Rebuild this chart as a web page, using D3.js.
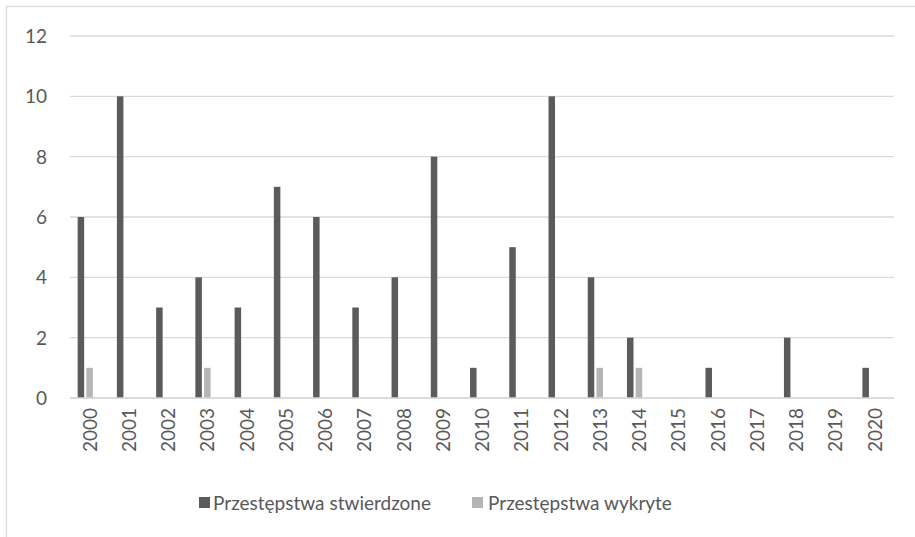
<!DOCTYPE html>
<html>
<head>
<meta charset="utf-8">
<script src="https://cdn.jsdelivr.net/npm/d3@7"></script>
<style>
  html, body { margin: 0; padding: 0; background: #fff; }
  svg { display: block; }
  text { font-family: Lato, "Open Sans", sans-serif; fill: #595959; }
</style>
</head>
<body>
<svg id="chart" width="915" height="537"></svg>
<script>
const categories = ["2000","2001","2002","2003","2004","2005","2006","2007","2008","2009","2010",
                    "2011","2012","2013","2014","2015","2016","2017","2018","2019","2020"];
const seriesNames = ["Przestępstwa stwierdzone", "Przestępstwa wykryte"];
const stwierdzone = [6,10,3,4,3,7,6,3,4,8,1,5,10,4,2,0,1,0,2,0,1];
const wykryte     = [1,0,0,1,0,0,0,0,0,0,0,0,0,1,1,0,0,0,0,0,0];
const yTicks = [0,2,4,6,8,10,12];
const colors = ["#5b5b5b", "#b5b5b5"];

(function () {
const svg = d3.select("#chart");
const W = 915, H = 537;

// chart border
svg.append("rect").attr("x", 6.5).attr("y", 6.5).attr("width", W + 10).attr("height", H + 10)
  .attr("fill", "#fff").attr("stroke", "#d9d9d9").attr("stroke-width", 1.3);

const pLeft = 70, pRight = 894, pTop = 36, pBottom = 398;

const x0 = d3.scaleBand().domain(categories).range([pLeft, pRight])
  .paddingInner(0.334).paddingOuter(0.167);
const x1 = d3.scaleBand().domain(seriesNames).range([0, x0.bandwidth() * 2 / 3]);
const y = d3.scaleLinear().domain([0, 12]).range([pBottom, pTop]);

// gridlines
svg.append("g").selectAll("line").data(yTicks).join("line")
  .attr("x1", pLeft).attr("x2", pRight)
  .attr("y1", d => y(d)).attr("y2", d => y(d))
  .attr("stroke", "#d9d9d9").attr("stroke-width", 1.3);

// y labels
svg.append("g").selectAll("text").data(yTicks).join("text")
  .attr("x", 47).attr("y", d => y(d)).attr("dy", "0.36em")
  .attr("text-anchor", "end").style("font-size", "19px")
  .text(d => d);

const data = categories.map((c, i) => ({ cat: c, vals: [stwierdzone[i], wykryte[i]] }));

// bars
const inset = 1.1;
const g = svg.append("g").selectAll("g").data(data).join("g")
  .attr("transform", d => `translate(${x0(d.cat)},0)`);
g.selectAll("rect").data(d => d.vals.map((v, k) => ({ v, k })).filter(o => o.v > 0)).join("rect")
  .attr("x", o => x1(seriesNames[o.k]) + inset)
  .attr("width", x1.bandwidth() - 2 * inset)
  .attr("y", o => y(o.v))
  .attr("height", o => y(0) - y(o.v))
  .attr("fill", o => colors[o.k]);

// baseline on top
svg.append("line").attr("x1", pLeft).attr("x2", pRight).attr("y1", y(0)).attr("y2", y(0))
  .attr("stroke", "#d9d9d9").attr("stroke-width", 1.3);

// x labels rotated
svg.append("g").selectAll("text").data(categories).join("text")
  .attr("transform", d => `translate(${x0(d) + x0.bandwidth() / 2 + 0.3},408) rotate(-90)`)
  .attr("text-anchor", "end").attr("dy", "0.36em")
  .style("font-size", "19px")
  .text(d => d);

// legend
const legend = [
  { name: seriesNames[0], color: colors[0], sx: 199, tx: 213 },
  { name: seriesNames[1], color: colors[1], sx: 472, tx: 488 }
];
const lg = svg.append("g");
lg.selectAll("rect").data(legend).join("rect")
  .attr("x", d => d.sx).attr("y", 497).attr("width", 11).attr("height", 11)
  .attr("fill", d => d.color);
lg.selectAll("text").data(legend).join("text")
  .attr("x", d => d.tx).attr("y", 503).attr("dy", "0.36em")
  .style("font-size", "19px")
  .text(d => d.name);
})();
</script>
</body>
</html>
